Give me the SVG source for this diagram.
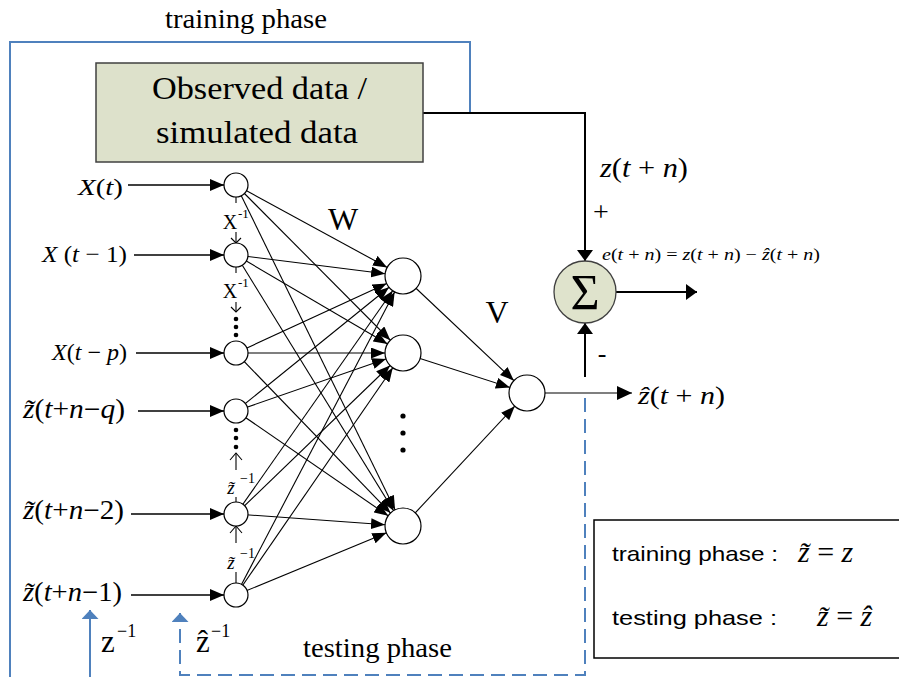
<svg xmlns="http://www.w3.org/2000/svg" width="899" height="677" viewBox="0 0 899 677">
  <style>
    .serif { font-family: "Liberation Serif", "Times New Roman", serif; fill: #000; }
    .it { font-style: italic; }
    .sans { font-family: "Liberation Sans", Arial, sans-serif; fill: #000; }
    .edge { stroke: #000; stroke-width: 1.1; fill: none; }
    .wire { stroke: #000; stroke-width: 1.4; fill: none; }
    .thick { stroke: #000; stroke-width: 2; fill: none; }
    .blue { stroke: #4f81bd; stroke-width: 2; fill: none; }
    .dash { stroke: #4f81bd; stroke-width: 2; fill: none; stroke-dasharray: 14 7; }
    .node { fill: #fff; stroke: #000; stroke-width: 1.2; }
    .dot { fill: #000; }
  </style>
  <defs>
    <!-- arrowhead ending on a 12px input node boundary (line ends at node centre) -->
    <marker id="inArr" markerUnits="userSpaceOnUse" markerWidth="14" markerHeight="12" refX="26" refY="6" orient="auto">
      <path d="M0,0 L14,6 L0,12 z" fill="#000"/>
    </marker>
    <!-- arrowhead ending on an 18px neuron boundary (line ends at neuron centre) -->
    <marker id="hArr" markerUnits="userSpaceOnUse" markerWidth="14" markerHeight="11" refX="32" refY="5.5" orient="auto">
      <path d="M0,0 L14,5.5 L0,11 z" fill="#000"/>
    </marker>
    <marker id="tipArr" markerUnits="userSpaceOnUse" markerWidth="15" markerHeight="14" refX="15" refY="7" orient="auto">
      <path d="M0,0 L15,7 L0,14 z" fill="#000"/>
    </marker>
    <marker id="sumArr" markerUnits="userSpaceOnUse" markerWidth="11" markerHeight="16" refX="11" refY="8" orient="auto">
      <path d="M0,0 L11,8 L0,16 z" fill="#000"/>
    </marker>
    <marker id="blueArr" markerUnits="userSpaceOnUse" markerWidth="9" markerHeight="17" refX="9" refY="8.5" orient="auto">
      <path d="M0,0 L9,8.5 L0,17 z" fill="#4f81bd"/>
    </marker>
  </defs>

  <rect width="899" height="677" fill="#fff"/>

  <g id="connectors">
    <!-- training phase loop -->
    <polyline class="blue" points="10,677 10,42 470,42 470,113"/>
    <line class="blue" x1="90" y1="677" x2="90" y2="610" marker-end="url(#blueArr)"/>
    <!-- testing phase loop -->
    <polyline class="dash" points="585,398 585,675 180,675 180,613" marker-end="url(#blueArr)"/>

    <!-- observed data to summing junction -->
    <polyline class="thick" points="423,113 585,113 585,261" marker-end="url(#sumArr)"/>
    <line class="thick" x1="585" y1="377" x2="585" y2="323" marker-end="url(#sumArr)"/>
    <line class="thick" x1="616" y1="292" x2="697" y2="292" marker-end="url(#sumArr)"/>

    <!-- inputs into input layer -->
    <line class="wire" x1="128" y1="185" x2="236" y2="185" marker-end="url(#inArr)"/>
    <line class="wire" x1="134" y1="255" x2="236" y2="255" marker-end="url(#inArr)"/>
    <line class="wire" x1="136" y1="353" x2="236" y2="353" marker-end="url(#inArr)"/>
    <line class="wire" x1="138" y1="411" x2="236" y2="411" marker-end="url(#inArr)"/>
    <line class="wire" x1="131" y1="514" x2="236" y2="514" marker-end="url(#inArr)"/>
    <line class="wire" x1="131" y1="595" x2="236" y2="595" marker-end="url(#inArr)"/>

    <!-- weights W: input layer to hidden layer -->
    <g marker-end="url(#hArr)">
      <line class="edge" x1="236" y1="185" x2="403" y2="276"/>
      <line class="edge" x1="236" y1="185" x2="403" y2="353"/>
      <line class="edge" x1="236" y1="185" x2="403" y2="526"/>
      <line class="edge" x1="236" y1="255" x2="403" y2="276"/>
      <line class="edge" x1="236" y1="255" x2="403" y2="353"/>
      <line class="edge" x1="236" y1="255" x2="403" y2="526"/>
      <line class="edge" x1="236" y1="353" x2="403" y2="276"/>
      <line class="edge" x1="236" y1="353" x2="403" y2="353"/>
      <line class="edge" x1="236" y1="353" x2="403" y2="526"/>
      <line class="edge" x1="236" y1="411" x2="403" y2="276"/>
      <line class="edge" x1="236" y1="411" x2="403" y2="353"/>
      <line class="edge" x1="236" y1="411" x2="403" y2="526"/>
      <line class="edge" x1="236" y1="514" x2="403" y2="276"/>
      <line class="edge" x1="236" y1="514" x2="403" y2="353"/>
      <line class="edge" x1="236" y1="514" x2="403" y2="526"/>
      <line class="edge" x1="236" y1="595" x2="403" y2="276"/>
      <line class="edge" x1="236" y1="595" x2="403" y2="353"/>
      <line class="edge" x1="236" y1="595" x2="403" y2="526"/>
      <!-- weights V: hidden layer to output -->
      <line class="edge" x1="403" y1="276" x2="527" y2="393"/>
      <line class="edge" x1="403" y1="353" x2="527" y2="393"/>
      <line class="edge" x1="403" y1="526" x2="527" y2="393"/>
    </g>

    <!-- network output -->
    <line class="edge" x1="527" y1="393" x2="632" y2="393" marker-end="url(#tipArr)"/>

    <!-- unit delays between input nodes -->
    <g class="edge">
      <line x1="236" y1="197" x2="236" y2="203"/>
      <line x1="236" y1="232" x2="236" y2="243"/>
      <polyline points="231,238 236,243 241,238"/>
      <line x1="236" y1="267" x2="236" y2="273"/>
      <line x1="236" y1="302" x2="236" y2="312"/>
      <polyline points="231,307 236,312 241,307"/>
      <line x1="236" y1="470" x2="236" y2="453"/>
      <polyline points="230,460 236,453 242,460"/>
      <line x1="236" y1="497" x2="236" y2="502"/>
      <line x1="236" y1="543" x2="236" y2="526"/>
      <polyline points="230,533 236,526 242,533"/>
      <line x1="236" y1="572" x2="236" y2="583"/>
    </g>
  </g>

  <g id="data-box">
    <rect x="96" y="63" width="327" height="99" fill="#dde1cb" stroke="#404040" stroke-width="1.5"/>
    <text class="serif" x="152" y="99" font-size="32" textLength="215" lengthAdjust="spacingAndGlyphs">Observed data /</text>
    <text class="serif" x="156" y="143" font-size="32" textLength="202" lengthAdjust="spacingAndGlyphs">simulated data</text>
  </g>

  <g id="sum">
    <circle cx="585" cy="292" r="31" fill="#dfe3cc" stroke="#404040" stroke-width="1.3"/>
    <text class="serif" x="585" y="309" font-size="50" text-anchor="middle">Σ</text>
  </g>

  <g id="input-nodes">
    <circle class="node" id="in1" cx="236" cy="185" r="12"/>
    <circle class="node" id="in2" cx="236" cy="255" r="12"/>
    <circle class="node" id="in3" cx="236" cy="353" r="12"/>
    <circle class="node" id="in4" cx="236" cy="411" r="12"/>
    <circle class="node" id="in5" cx="236" cy="514" r="12"/>
    <circle class="node" id="in6" cx="236" cy="595" r="12"/>
    <circle class="dot" cx="236" cy="319" r="2.3"/>
    <circle class="dot" cx="236" cy="327" r="2.3"/>
    <circle class="dot" cx="236" cy="335" r="2.3"/>
    <circle class="dot" cx="236" cy="430" r="2.3"/>
    <circle class="dot" cx="236" cy="438" r="2.3"/>
    <circle class="dot" cx="236" cy="447" r="2.3"/>
  </g>

  <g id="hidden-nodes">
    <circle class="node" id="h1" cx="403" cy="276" r="18"/>
    <circle class="node" id="h2" cx="403" cy="353" r="18"/>
    <circle class="node" id="h3" cx="403" cy="526" r="18"/>
    <circle class="dot" cx="403" cy="416" r="2.6"/>
    <circle class="dot" cx="403" cy="433" r="2.6"/>
    <circle class="dot" cx="403" cy="450" r="2.6"/>
  </g>

  <g id="output-node">
    <circle class="node" cx="527" cy="393" r="18"/>
  </g>

  <g id="input-labels">
    <text class="serif" x="78" y="195" font-size="24" textLength="45" lengthAdjust="spacingAndGlyphs"><tspan class="it">X</tspan>(<tspan class="it">t</tspan>)</text>
    <text class="serif" x="42" y="262" font-size="24" textLength="85" lengthAdjust="spacingAndGlyphs"><tspan class="it">X</tspan> (<tspan class="it">t</tspan> − 1)</text>
    <text class="serif" x="52" y="360" font-size="23" textLength="75" lengthAdjust="spacingAndGlyphs"><tspan class="it">X</tspan>(<tspan class="it">t</tspan> − <tspan class="it">p</tspan>)</text>
    <text class="serif" x="23" y="418" font-size="27" textLength="102" lengthAdjust="spacingAndGlyphs"><tspan class="it">z̃</tspan>(<tspan class="it">t</tspan>+<tspan class="it">n</tspan>−<tspan class="it">q</tspan>)</text>
    <text class="serif" x="23" y="519" font-size="27" textLength="101" lengthAdjust="spacingAndGlyphs"><tspan class="it">z̃</tspan>(<tspan class="it">t</tspan>+<tspan class="it">n</tspan>−2)</text>
    <text class="serif" x="23" y="601" font-size="27" textLength="99" lengthAdjust="spacingAndGlyphs"><tspan class="it">z̃</tspan>(<tspan class="it">t</tspan>+<tspan class="it">n</tspan>−1)</text>
  </g>

  <g id="delay-labels">
    <text class="serif" x="230" y="229" font-size="20" text-anchor="middle">X</text>
    <text class="serif" x="238" y="218" font-size="13">-1</text>
    <text class="serif" x="230" y="298" font-size="20" text-anchor="middle">X</text>
    <text class="serif" x="238" y="287" font-size="13">-1</text>
    <text class="serif it" x="231" y="494" font-size="19" text-anchor="middle">z̃</text>
    <text class="serif" x="240" y="483" font-size="14">−1</text>
    <text class="serif it" x="231" y="569" font-size="19" text-anchor="middle">z̃</text>
    <text class="serif" x="240" y="558" font-size="14">−1</text>
    <text class="serif" x="101" y="652" font-size="31">z</text>
    <text class="serif" x="117" y="637" font-size="18">−1</text>
    <text class="serif" x="196" y="652" font-size="31">ẑ</text>
    <text class="serif" x="211" y="637" font-size="18">−1</text>
  </g>

  <g id="annotations">
    <text class="serif" x="165" y="28" font-size="27" textLength="162" lengthAdjust="spacingAndGlyphs">training phase</text>
    <text class="serif" x="303" y="657" font-size="27" textLength="149" lengthAdjust="spacingAndGlyphs">testing phase</text>
    <text class="serif" x="343" y="230" font-size="32" text-anchor="middle">W</text>
    <text class="serif" x="497" y="323" font-size="32" text-anchor="middle">V</text>
    <text class="serif" x="600" y="177" font-size="28" textLength="88" lengthAdjust="spacingAndGlyphs"><tspan class="it">z</tspan>(<tspan class="it">t</tspan> + <tspan class="it">n</tspan>)</text>
    <text class="serif" x="601" y="221" font-size="28" text-anchor="middle">+</text>
    <text class="serif" x="602" y="362" font-size="26" text-anchor="middle">-</text>
    <text class="serif" x="602" y="260" font-size="16" textLength="218" lengthAdjust="spacingAndGlyphs"><tspan class="it">e</tspan>(<tspan class="it">t</tspan> + <tspan class="it">n</tspan>) = <tspan class="it">z</tspan>(<tspan class="it">t</tspan> + <tspan class="it">n</tspan>) − <tspan class="it">ẑ</tspan>(<tspan class="it">t</tspan> + <tspan class="it">n</tspan>)</text>
    <text class="serif" x="638" y="404" font-size="26" textLength="87" lengthAdjust="spacingAndGlyphs"><tspan class="it">ẑ</tspan>(<tspan class="it">t</tspan> + <tspan class="it">n</tspan>)</text>
  </g>

  <g id="legend">
    <rect x="594" y="520" width="320" height="138" fill="#fff" stroke="#000" stroke-width="1.5"/>
    <text class="sans" x="612" y="561" font-size="21" textLength="166" lengthAdjust="spacingAndGlyphs">training phase :</text>
    <text class="serif" x="798" y="562" font-size="30"><tspan class="it">z̃</tspan> = <tspan class="it">z</tspan></text>
    <text class="sans" x="612" y="625" font-size="21" textLength="165" lengthAdjust="spacingAndGlyphs">testing phase  :</text>
    <text class="serif" x="817" y="626" font-size="30"><tspan class="it">z̃</tspan> = <tspan class="it">ẑ</tspan></text>
  </g>
</svg>
